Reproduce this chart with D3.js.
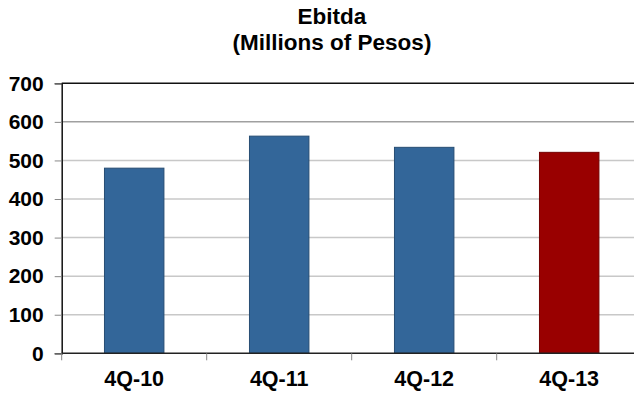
<!DOCTYPE html>
<html><head><meta charset="utf-8">
<script src="https://cdn.jsdelivr.net/npm/d3@7"></script>
<style>body{margin:0;background:#fff}svg{display:block}text{font-family:"Liberation Sans",Arial,sans-serif;font-weight:bold;fill:#000}</style>
</head><body>
<script>
const categories = ["4Q-10","4Q-11","4Q-12","4Q-13"];
const values = [480, 563, 534, 521];
const barColors = ["#336699","#336699","#336699","#990000"];
const yTicks = [0,100,200,300,400,500,600,700];
const titleLines = ["Ebitda","(Millions of Pesos)"];

(function(){
const W=634,H=393;
const svg=d3.select("body").append("svg").attr("width",W).attr("height",H);
const mLeft=61.7,mRight=641.7,mTop=83.3,mBottom=353.3;
const x=d3.scaleBand().domain(categories).range([mLeft,mRight]).paddingInner(0.59).paddingOuter(0.295);
const y=d3.scaleLinear().domain([0,700]).range([mBottom,mTop]);

// gridlines
svg.append("g").selectAll("line").data(yTicks.filter(t=>t>0&&t<700)).join("line")
  .attr("x1",mLeft).attr("x2",W).attr("y1",d=>y(d)).attr("y2",d=>y(d))
  .attr("stroke",d=>d===600?"#a0a0a0":"#c8c8c8").attr("stroke-width",1.5);
// top border
svg.append("line").attr("x1",mLeft).attr("x2",W).attr("y1",y(700)).attr("y2",y(700)).attr("stroke","#111").attr("stroke-width",1.5);

// y axis
const yAxis=svg.append("g").attr("transform",`translate(${mLeft},0)`)
  .call(d3.axisLeft(y).tickValues(yTicks).tickSize(7).tickPadding(11));
yAxis.select(".domain").attr("stroke","#111").attr("stroke-width",1.5);
yAxis.selectAll(".tick line").attr("stroke","#888");
yAxis.selectAll("text").attr("font-size","21px").attr("font-family","Liberation Sans, Arial, sans-serif").attr("font-weight","bold").attr("fill","#000");

// bars
svg.append("g").selectAll("rect").data(categories).join("rect")
  .attr("x",d=>x(d)).attr("width",x.bandwidth())
  .attr("y",(d,i)=>y(values[i])).attr("height",(d,i)=>y(0)-y(values[i]))
  .attr("fill",(d,i)=>barColors[i])
  .attr("stroke",(d,i)=>d3.color(barColors[i]).darker(0.8)).attr("stroke-width",1);

// x axis
const step=x.step();
svg.append("line").attr("x1",mLeft).attr("x2",W).attr("y1",mBottom).attr("y2",mBottom).attr("stroke","#222").attr("stroke-width",1.5);
const bounds=categories.map(c=>x(c)-step*x.paddingInner()/2);
svg.append("g").selectAll("line").data(bounds).join("line")
  .attr("x1",d=>d).attr("x2",d=>d).attr("y1",mBottom).attr("y2",mBottom+7).attr("stroke","#888");
svg.append("g").selectAll("text").data(categories).join("text")
  .attr("x",d=>x(d)+x.bandwidth()/2).attr("y",386).attr("text-anchor","middle")
  .attr("font-size","21.5px").text(d=>d);

// title
svg.append("g").selectAll("text").data(titleLines).join("text")
  .attr("x",332).attr("y",(d,i)=>24+i*26).attr("text-anchor","middle")
  .attr("font-size","22.5px").text(d=>d);
})();
</script>
</body></html>
